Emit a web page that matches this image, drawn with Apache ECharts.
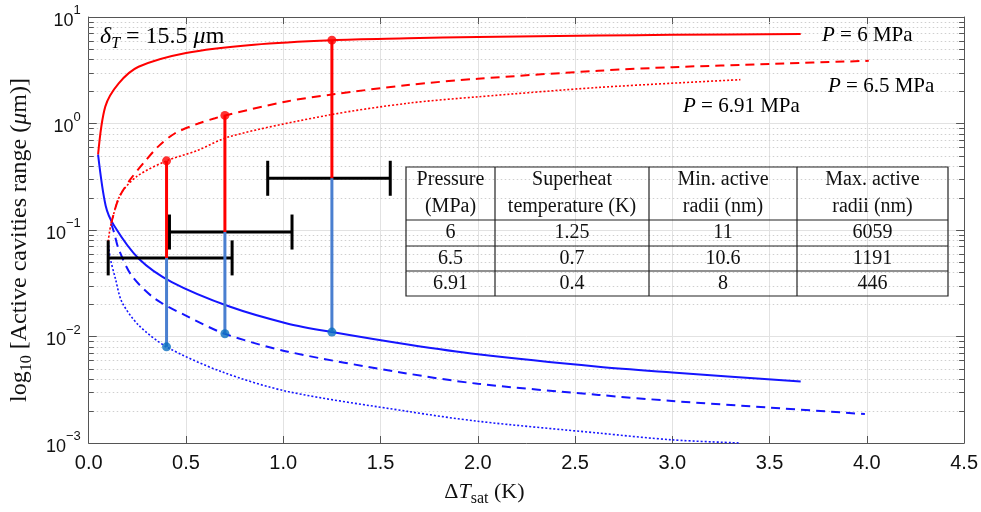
<!DOCTYPE html>
<html>
<head>
<meta charset="utf-8">
<script src="https://cdn.jsdelivr.net/npm/echarts@6/dist/echarts.min.js"></script>
<style>
  html, body { margin: 0; padding: 0; background: #fff; }
  #chart { width: 981px; height: 512px; }
</style>
</head>
<body>
<div id="chart"></div>
<script>
// ---- Operating points (table values) ----
const pressures = ['6', '6.5', '6.91'];
const superheatK = [1.25, 0.7, 0.4];
const minRadiiNm = [11, 10.6, 8];
const maxRadiiNm = [6059, 1191, 446];

// Horizontal uncertainty bars: level (µm), low and high superheat (K)
const barLevel = [0.306, 0.0957, 0.0547];
const barLow = [0.92, 0.415, 0.10];
const barHigh = [1.55, 1.045, 0.737];

// ---- Active cavity radius limits vs. wall superheat (µm) ----
// P = 6 MPa
const p6X    = [0.048, 0.085, 0.154, 0.256, 0.5, 0.85, 1.25, 1.64, 2.0, 2.62, 3.0, 3.66];
const p6Max  = [0.51, 1.44, 2.38, 3.41, 4.6, 5.5, 6.059, 6.3, 6.5, 6.7, 6.8, 6.93];
const p6MinX = [0.048, 0.087, 0.13, 0.256, 0.427, 0.727, 1.024, 1.25, 1.64, 2.0, 2.62, 3.0, 3.66];
const p6Min  = [0.51, 0.169, 0.11, 0.054, 0.0324, 0.019, 0.0132, 0.011, 0.0084, 0.0068, 0.0052, 0.0046, 0.00378];
// P = 6.5 MPa
const p65X    = [0.115, 0.155, 0.215, 0.282, 0.358, 0.444, 0.563, 0.649, 0.7, 1.024, 1.25, 1.64, 2.0, 2.62, 3.0, 3.5, 4.01];
const p65Max  = [0.115, 0.2, 0.3, 0.426, 0.61, 0.81, 1.0, 1.12, 1.191, 1.62, 1.87, 2.3, 2.63, 3.13, 3.38, 3.62, 3.88];
const p65MinX = [0.115, 0.13, 0.154, 0.222, 0.341, 0.512, 0.7, 1.024, 1.604, 2.0, 2.62, 3.0, 3.5, 3.99];
const p65Min  = [0.115, 0.095, 0.066, 0.037, 0.0226, 0.0153, 0.0106, 0.0072, 0.0046, 0.0036, 0.00283, 0.00248, 0.00215, 0.00187];
// P = 6.91 MPa
const p691X    = [0.1, 0.113, 0.164, 0.249, 0.4, 0.555, 0.727, 1.234, 1.64, 2.0, 2.62, 3.35];
const p691Max  = [0.078, 0.11, 0.217, 0.32, 0.446, 0.555, 0.757, 1.2, 1.55, 1.78, 2.18, 2.58];
const p691MinX = [0.1, 0.11, 0.137, 0.171, 0.256, 0.4, 0.683, 1.024, 1.64, 2.0, 2.62, 3.0, 3.35];
const p691Min  = [0.078, 0.055, 0.035, 0.021, 0.0128, 0.008, 0.00467, 0.00304, 0.00198, 0.0016, 0.00124, 0.00107, 0.001];

// Minor log ticks (2..9 within each decade)
const minorTicks = [
  0.002, 0.003, 0.004, 0.005, 0.006, 0.007, 0.008, 0.009,
  0.02, 0.03, 0.04, 0.05, 0.06, 0.07, 0.08, 0.09,
  0.2, 0.3, 0.4, 0.5, 0.6, 0.7, 0.8, 0.9,
  2, 3, 4, 5, 6, 7, 8, 9
];

const SERIF = "'Liberation Serif', 'Times New Roman', serif";
const SANS = "'Liberation Sans', Arial, Helvetica, sans-serif";
const RED = '#ff0000';
const BLUE = '#1515ff';
const STEM_BLUE = '#4a7fd0';
const DOT_BLUE = '#0b6fc0';
const AXIS = '#555555';
const TXT = '#111111';

const zip = (xs, ys) => xs.map((x, i) => [x, ys[i]]);

function curve(name, xs, ys, color, type, width) {
  return {
    name, type: 'line', data: zip(xs, ys),
    symbol: 'none', showSymbol: false,
    smooth: 0.3,
    lineStyle: { color, width, type },
    z: 3, silent: true
  };
}

function crisp(v) { return Math.round(v) + 0.5; }

const series = [
  // dotted minor grid + minor ticks on both vertical edges
  {
    type: 'custom', silent: true, z: 1,
    data: minorTicks.map(v => [0, v]),
    encode: { x: 0, y: 1 },
    renderItem(params, api) {
      const cs = params.coordSys;
      const y = crisp(api.coord([0, api.value(1)])[1]);
      const tick = { stroke: AXIS, lineWidth: 1 };
      return {
        type: 'group',
        children: [
          { type: 'line', shape: { x1: cs.x, y1: y, x2: cs.x + cs.width, y2: y },
            style: { stroke: '#cfcfcf', lineWidth: 1, lineDash: [1.5, 2.5] } },
          { type: 'line', shape: { x1: cs.x, y1: y, x2: cs.x + 5, y2: y }, style: tick },
          { type: 'line', shape: { x1: cs.x + cs.width - 5, y1: y, x2: cs.x + cs.width, y2: y }, style: tick }
        ]
      };
    }
  },
  curve('P6 max', p6X, p6Max, RED, 'solid', 2),
  curve('P6 min', p6MinX, p6Min, BLUE, 'solid', 2),
  curve('P6.5 max', p65X, p65Max, RED, [9, 6], 2),
  curve('P6.5 min', p65MinX, p65Min, BLUE, [9, 6], 2),
  curve('P6.91 max', p691X, p691Max, RED, [2, 2], 1.6),
  curve('P6.91 min', p691MinX, p691Min, BLUE, [2, 2], 1.6),
  // uncertainty bars with end caps
  {
    type: 'custom', silent: true, z: 4,
    data: barLevel.map((y, i) => [barLow[i], barHigh[i], y]),
    encode: { x: [0, 1], y: 2 },
    renderItem(params, api) {
      const a = api.coord([api.value(0), api.value(2)]);
      const b = api.coord([api.value(1), api.value(2)]);
      const h = 17.5;
      const st = { stroke: '#000', lineWidth: 3 };
      return {
        type: 'group',
        children: [
          { type: 'line', shape: { x1: a[0], y1: a[1], x2: b[0], y2: b[1] }, style: st },
          { type: 'line', shape: { x1: a[0], y1: a[1] - h, x2: a[0], y2: a[1] + h }, style: st },
          { type: 'line', shape: { x1: b[0], y1: b[1] - h, x2: b[0], y2: b[1] + h }, style: st }
        ]
      };
    }
  }
];

// stems: red from max radius down to bar level, blue from bar level down to min radius
superheatK.forEach((t, i) => {
  series.push({
    type: 'line', silent: true, z: 5, symbol: 'none',
    data: [[t, maxRadiiNm[i] / 1000], [t, barLevel[i]]],
    lineStyle: { color: RED, width: 3 }
  });
  series.push({
    type: 'line', silent: true, z: 5, symbol: 'none',
    data: [[t, barLevel[i]], [t, minRadiiNm[i] / 1000]],
    lineStyle: { color: STEM_BLUE, width: 3 }
  });
});
series.push({
  type: 'scatter', silent: true, z: 6, symbolSize: 9,
  data: superheatK.map((t, i) => [t, maxRadiiNm[i] / 1000]),
  itemStyle: { color: RED }
});
series.push({
  type: 'scatter', silent: true, z: 6, symbolSize: 9,
  data: superheatK.map((t, i) => [t, minRadiiNm[i] / 1000]),
  itemStyle: { color: DOT_BLUE }
});

// ---- Table drawn inside the plot ----
const colX = [406, 495, 649, 797, 948];
const rowY = [167, 220, 246, 271, 296];
const header = ['Pressure\n(MPa)', 'Superheat\ntemperature (K)', 'Min. active\nradii (nm)', 'Max. active\nradii (nm)'];
const rows = pressures.map((p, i) => [p, String(superheatK[i]), String(minRadiiNm[i]), String(maxRadiiNm[i])]);

const tableEls = [];
const border = { stroke: '#222', lineWidth: 1.2, fill: null };
tableEls.push({ type: 'rect', shape: { x: colX[0], y: rowY[0], width: colX[4] - colX[0], height: rowY[4] - rowY[0] },
  style: { stroke: '#222', lineWidth: 1.2, fill: 'rgba(0,0,0,0)' }, z: 10 });
for (let c = 1; c < 4; c++) {
  tableEls.push({ type: 'line', shape: { x1: colX[c], y1: rowY[0], x2: colX[c], y2: rowY[4] }, style: border, z: 10 });
}
for (let r = 1; r < 4; r++) {
  tableEls.push({ type: 'line', shape: { x1: colX[0], y1: rowY[r], x2: colX[4], y2: rowY[r] }, style: border, z: 10 });
}
const cellFont = { fontFamily: SERIF, fontSize: 20, fill: TXT, align: 'center', verticalAlign: 'middle' };
header.forEach((h, c) => {
  tableEls.push({ type: 'text', z: 11, x: (colX[c] + colX[c + 1]) / 2, y: (rowY[0] + rowY[1]) / 2,
    style: Object.assign({ text: h, lineHeight: 27 }, cellFont) });
});
rows.forEach((row, r) => {
  row.forEach((v, c) => {
    tableEls.push({ type: 'text', z: 11, x: (colX[c] + colX[c + 1]) / 2, y: (rowY[r + 1] + rowY[r + 2]) / 2,
      style: Object.assign({ text: v }, cellFont) });
  });
});

const italic = { fontFamily: SERIF, fontSize: 21, fontStyle: 'italic', color: TXT, lineHeight: 28 };
const roman = { fontFamily: SERIF, fontSize: 21, color: TXT, lineHeight: 28 };
const curveLabel = (x, y, p) => ({
  type: 'text', x, y, z: 11,
  style: { text: '{i|P}{n| = ' + p + ' MPa}', verticalAlign: 'middle', rich: { i: italic, n: roman } }
});

const option = {
  animation: false,
  backgroundColor: '#fff',
  grid: { left: 88, right: 14, top: 17, bottom: 66 },
  xAxis: [
    {
      type: 'value', min: 0, max: 4.5, interval: 0.5, position: 'bottom',
      axisLine: { show: true, onZero: false, lineStyle: { color: AXIS, width: 1 } },
      axisTick: { show: true, inside: true, length: 7, lineStyle: { color: AXIS } },
      axisLabel: { color: TXT, fontFamily: SANS, fontSize: 20, margin: 10, formatter: v => v.toFixed(1) },
      splitLine: { show: true, lineStyle: { color: '#e2e2e2', width: 1 } },
      name: '{n|Δ}{i|T}{s|sat}{n| (K)}',
      nameLocation: 'middle', nameGap: 34,
      nameTextStyle: {
        padding: [0, 84, 0, 0],
        rich: {
          n: { fontFamily: SERIF, fontSize: 22, color: TXT, lineHeight: 30 },
          i: { fontFamily: SERIF, fontSize: 22, fontStyle: 'italic', color: TXT, lineHeight: 30 },
          s: { fontFamily: SERIF, fontSize: 16, color: TXT, verticalAlign: 'bottom', lineHeight: 16 }
        }
      }
    },
    {
      type: 'value', min: 0, max: 4.5, interval: 0.5, position: 'top',
      axisLine: { show: true, onZero: false, lineStyle: { color: AXIS, width: 1 } },
      axisTick: { show: true, inside: true, length: 7, lineStyle: { color: AXIS } },
      axisLabel: { show: false }, splitLine: { show: false }
    }
  ],
  yAxis: [
    {
      type: 'log', logBase: 10, min: 0.001, max: 10, position: 'left',
      axisLine: { show: true, onZero: false, lineStyle: { color: AXIS, width: 1 } },
      axisTick: { show: true, inside: true, length: 8, lineStyle: { color: AXIS } },
      axisLabel: {
        margin: 8, color: TXT,
        formatter: v => {
          const e = Math.round(Math.log10(v));
          return '{b|10}{s|' + (e < 0 ? '\u2212' + (-e) : e) + '}';
        },
        rich: {
          b: { fontFamily: SANS, fontSize: 18, color: TXT, lineHeight: 26, verticalAlign: 'bottom' },
          s: { fontFamily: SANS, fontSize: 13, color: TXT, lineHeight: 13, verticalAlign: 'top' }
        }
      },
      splitLine: { show: true, lineStyle: { color: '#e2e2e2', width: 1 } },
      name: '{n|log}{s|10}{n| [Active cavities range (}{i|\u03bc}{n|m)]}',
      nameLocation: 'middle', nameRotate: 90, nameGap: 44,
      nameTextStyle: {
        padding: [0, 20, 0, 0],
        rich: {
          n: { fontFamily: SERIF, fontSize: 24, color: TXT, lineHeight: 30 },
          i: { fontFamily: SERIF, fontSize: 24, fontStyle: 'italic', color: TXT, lineHeight: 30 },
          s: { fontFamily: SERIF, fontSize: 16, color: TXT, verticalAlign: 'bottom', lineHeight: 16 }
        }
      }
    },
    {
      type: 'log', logBase: 10, min: 0.001, max: 10, position: 'right',
      axisLine: { show: true, onZero: false, lineStyle: { color: AXIS, width: 1 } },
      axisTick: { show: true, inside: true, length: 8, lineStyle: { color: AXIS } },
      axisLabel: { show: false }, splitLine: { show: false }
    }
  ],
  graphic: [
    {
      type: 'text', x: 100, y: 37, z: 11,
      style: {
        text: '{i|\u03b4}{s|T}{n| = 15.5 }{i|\u03bc}{n|m}', verticalAlign: 'middle',
        rich: {
          i: { fontFamily: SERIF, fontSize: 24, fontStyle: 'italic', color: TXT, lineHeight: 30 },
          n: { fontFamily: SERIF, fontSize: 24, color: TXT, lineHeight: 30 },
          s: { fontFamily: SERIF, fontSize: 16, fontStyle: 'italic', color: TXT, lineHeight: 16, verticalAlign: 'bottom' }
        }
      }
    },
    curveLabel(822, 35.5, '6'),
    curveLabel(828, 86, '6.5'),
    curveLabel(683, 106, '6.91'),
    ...tableEls
  ],
  series
};

const chart = echarts.init(document.getElementById('chart'));
chart.setOption(option);
</script>
</body>
</html>
